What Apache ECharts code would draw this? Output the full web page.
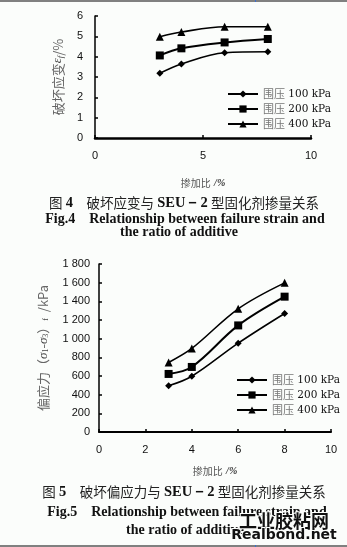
<!DOCTYPE html>
<html><head><meta charset="utf-8">
<script src="https://cdn.jsdelivr.net/npm/echarts@6/dist/echarts.min.js"></script>
<style>html,body{margin:0;padding:0;background:#fbfdfb;}#c{width:347px;height:547px;}</style>
</head><body><div id="c"></div>
<script>
// ---- data ----
const ratio = [3, 4, 6, 8];
const seriesNames = ['围压 100 kPa', '围压 200 kPa', '围压 400 kPa'];
const strain100 = [3.18, 3.64, 4.19, 4.24];
const strain200 = [4.06, 4.41, 4.70, 4.87];
const strain400 = [4.98, 5.21, 5.47, 5.47];
const dev100 = [495, 597, 952, 1270];
const dev200 = [622, 697, 1142, 1450];
const dev400 = [745, 895, 1320, 1598];
const xTicks1 = [0, 5, 10];
const yTicks1 = [0, 1, 2, 3, 4, 5, 6];
const xTicks2 = [0, 2, 4, 6, 8, 10];
const yTicks2 = [0, 200, 400, 600, 800, 1000, 1200, 1400, 1600, 1800];

const pairs = arr => ratio.map((x, i) => [x, arr[i]]);
const symbols = ['diamond', 'rect', 'triangle'];
const symSizes = [7, 8, 8];
const sans = 'Liberation Sans, Arial, sans-serif';
const serif = 'Liberation Serif, Times New Roman, serif';
const cjk = 'Noto Sans CJK SC, sans-serif';

function mkSeries(arr, idx, axisIdx) {
  return {
    type: 'line', name: seriesNames[idx], data: pairs(arr),
    xAxisIndex: axisIdx, yAxisIndex: axisIdx, smooth: 0.35,
    symbol: symbols[idx], symbolSize: symSizes[idx],
    lineStyle: { color: '#000', width: idx === 1 ? 2 : 1.6 },
    itemStyle: { color: '#000' }, emphasis: { disabled: true }, animation: false
  };
}

function fmtThousands(v) {
  const s = String(v);
  return s.length > 3 ? s.slice(0, s.length - 3) + ' ' + s.slice(-3) : s;
}

const legendRich = {
  c: { fontFamily: cjk, fontSize: 11, color: '#777' },
  n: { fontFamily: 'DejaVu Serif, serif', fontSize: 10.5, color: '#111' }
};
const legendFmt = name => '{c|' + name.slice(0, 2) + '} {n|' + name.slice(3) + '}';

function yAxisBase(gi, min, max, interval, fmt, margin) {
  return {
    type: 'value', gridIndex: gi, min: min, max: max, interval: interval,
    splitLine: { show: false },
    axisLine: { show: true, onZero: false, lineStyle: { color: '#000', width: 1.5 } },
    axisTick: { show: true, inside: true, length: 3, lineStyle: { color: '#000', width: 1.5 } },
    axisLabel: { fontFamily: sans, fontSize: 11, color: '#111', margin: margin, formatter: fmt }
  };
}

const xName = {
  rich: {
    c: { fontFamily: cjk, fontSize: 10, color: '#555' },
    i: { fontFamily: serif, fontStyle: 'italic', fontWeight: 'bold', fontSize: 10, color: '#333' }
  }
};

const chart = echarts.init(document.getElementById('c'), null, { renderer: 'canvas' });
chart.setOption({
  backgroundColor: '#fbfdfb',
  animation: false,
  grid: [
    { left: 95, right: 36, top: 16, bottom: 409 },
    { left: 99, right: 16, top: 264, bottom: 115 }
  ],
  xAxis: [
    {
      type: 'value', gridIndex: 0, min: xTicks1[0], max: xTicks1[xTicks1.length - 1], interval: 5,
      splitLine: { show: false },
      axisLine: { onZero: false, lineStyle: { color: '#000', width: 2.5 } },
      axisTick: { inside: true, length: 3, lineStyle: { color: '#000', width: 1.5 } },
      axisLabel: { fontFamily: sans, fontSize: 11, color: '#111', margin: 12 },
      name: '{c|掺加比} {i|/%}', nameLocation: 'middle', nameGap: 39, nameTextStyle: xName
    },
    {
      type: 'value', gridIndex: 1, min: xTicks2[0], max: xTicks2[xTicks2.length - 1], interval: 2,
      splitLine: { show: false },
      axisLine: { onZero: false, lineStyle: { color: '#000', width: 2 } },
      axisTick: { inside: true, length: 3, lineStyle: { color: '#000', width: 1.5 } },
      axisLabel: { fontFamily: sans, fontSize: 11, color: '#111', margin: 12 },
      name: '{c|掺加比} {i|/%}', nameLocation: 'middle', nameGap: 33, nameTextStyle: xName
    }
  ],
  yAxis: [
    Object.assign(yAxisBase(0, yTicks1[0], yTicks1[yTicks1.length - 1], 1, null, 12), {
      name: '{c|破坏应变}{e|ε}{s|f}{c|/%}', nameLocation: 'middle', nameGap: 30,
      nameTextStyle: { rich: {
        c: { fontFamily: cjk, fontSize: 13, color: '#666' },
        e: { fontFamily: serif, fontStyle: 'italic', fontSize: 13, color: '#444' },
        s: { fontFamily: serif, fontStyle: 'italic', fontSize: 9, color: '#444', padding: [5, 0, 0, 0] }
      } }
    }),
    Object.assign(yAxisBase(1, yTicks2[0], yTicks2[yTicks2.length - 1], 200, fmtThousands, 9), {
      name: '{c|偏应力（}{e|σ}{s|1}{c|-}{e|σ}{s|3}{c|）}{s|f}{c|  /kPa}', nameLocation: 'middle', nameGap: 49,
      nameTextStyle: { rich: {
        c: { fontFamily: cjk, fontSize: 13, color: '#666' },
        e: { fontFamily: serif, fontStyle: 'italic', fontSize: 13, color: '#444' },
        s: { fontFamily: serif, fontSize: 8, color: '#444', padding: [5, 0, 0, 0] }
      } }
    })
  ],
  legend: [
    { orient: 'vertical', left: 222, top: 83, itemWidth: 30, itemHeight: 9, itemGap: 3,
      data: seriesNames, formatter: legendFmt, textStyle: { rich: legendRich }, selectedMode: false },
    { orient: 'vertical', left: 231, top: 369, itemWidth: 30, itemHeight: 9, itemGap: 3,
      data: seriesNames, formatter: legendFmt, textStyle: { rich: legendRich }, selectedMode: false }
  ],
  series: [
    mkSeries(strain100, 0, 0), mkSeries(strain200, 1, 0), mkSeries(strain400, 2, 0),
    mkSeries(dev100, 0, 1), mkSeries(dev200, 1, 1), mkSeries(dev400, 2, 1)
  ],
  graphic: [
    { type: 'rect', shape: { x: 0, y: 0, width: 347, height: 2 }, style: { fill: '#808080' } },
    { type: 'rect', shape: { x: 255, y: 0, width: 1, height: 2 }, style: { fill: '#3a6fd0' } },
    { type: 'rect', shape: { x: 0, y: 545, width: 347, height: 2 }, style: { fill: '#808080' } },
    { type: 'rect', shape: { x: 255, y: 545, width: 1, height: 2 }, style: { fill: '#3a6fd0' } },
    { type: 'text', x: 184, y: 203, style: {
      text: '{c|图} {b|4}    {c|破坏应变与} {b|SEU－2} {c|型固化剂掺量关系}', align: 'center', verticalAlign: 'middle',
      rich: { c: { fontFamily: cjk, fontSize: 13.5, fill: '#222' }, b: { fontFamily: serif, fontWeight: 'bold', fontSize: 14.5, fill: '#111' } } } },
    { type: 'text', x: 185, y: 219, style: {
      text: 'Fig.4    Relationship between failure strain and', align: 'center', verticalAlign: 'middle',
      font: 'bold 14px ' + serif, fill: '#111' } },
    { type: 'text', x: 179, y: 232, style: {
      text: 'the ratio of additive', align: 'center', verticalAlign: 'middle',
      font: 'bold 14px ' + serif, fill: '#111' } },
    { type: 'text', x: 184, y: 492, style: {
      text: '{c|图} {b|5}    {c|破坏偏应力与} {b|SEU－2} {c|型固化剂掺量关系}', align: 'center', verticalAlign: 'middle',
      rich: { c: { fontFamily: cjk, fontSize: 13.5, fill: '#222' }, b: { fontFamily: serif, fontWeight: 'bold', fontSize: 14.5, fill: '#111' } } } },
    { type: 'text', x: 187, y: 512, style: {
      text: 'Fig.5    Relationship between failure strain and', align: 'center', verticalAlign: 'middle',
      font: 'bold 14px ' + serif, fill: '#111' } },
    { type: 'text', x: 185, y: 530, style: {
      text: 'the ratio of additive', align: 'center', verticalAlign: 'middle',
      font: 'bold 14px ' + serif, fill: '#111' } },
    { type: 'text', x: 284, y: 521, z: 100, style: {
      text: '工业胶粘网', align: 'center', verticalAlign: 'middle',
      font: 'bold 18px ' + cjk, fill: '#111', stroke: '#fbfdfb', lineWidth: 2 } },
    { type: 'text', x: 284, y: 535, z: 100, style: {
      text: 'Realbond.net', align: 'center', verticalAlign: 'middle',
      font: 'bold 14px DejaVu Sans, sans-serif', fill: '#111', stroke: '#fbfdfb', lineWidth: 2 } }
  ]
});
</script></body></html>
